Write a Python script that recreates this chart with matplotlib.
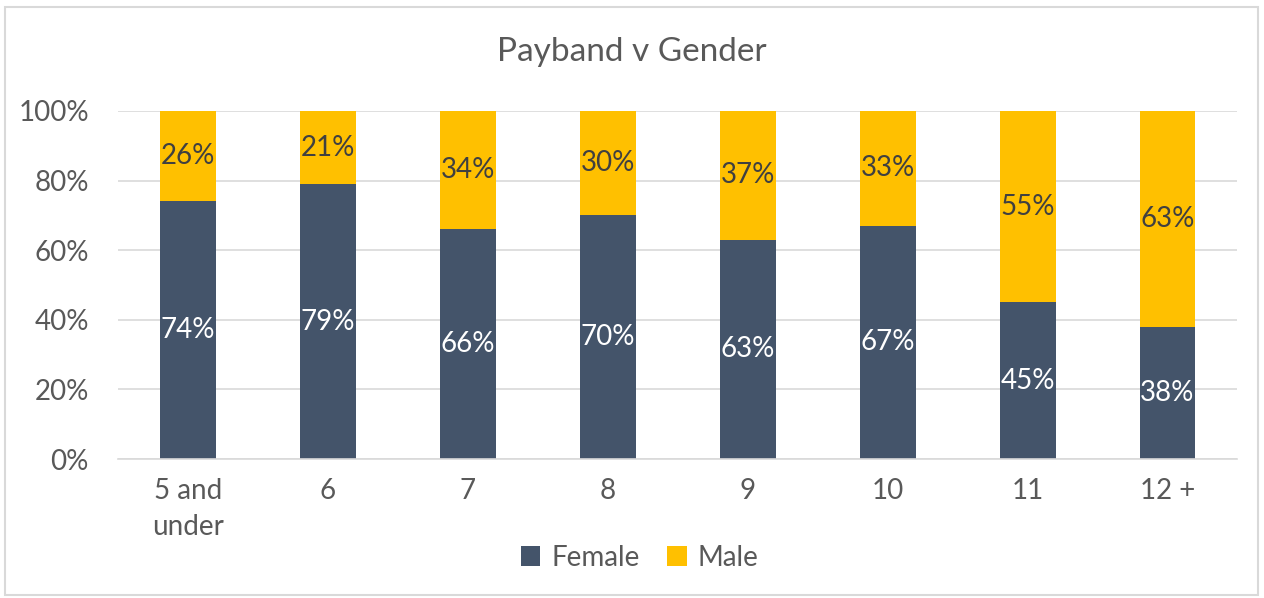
import matplotlib.pyplot as plt
from matplotlib.patches import Rectangle
import numpy as np

plt.rcParams['font.family'] = ['Lato', 'DejaVu Sans']

# 데이터
bands = ["5 and\nunder", "6", "7", "8", "9", "10", "11", "12 +"]
female = [74, 79, 66, 70, 63, 67, 45, 38]
male = [26, 21, 34, 30, 37, 33, 55, 63]

c_female = "#44546A"
c_male = "#FFC000"
grey_txt = "#595959"

fig = plt.figure(figsize=(12.64, 5.98), dpi=100)
ax = fig.add_axes([0.0934, 0.2324, 0.8856, 0.582])

x = np.arange(len(bands))
ax.bar(x, female, width=0.4, color=c_female, label="Female", zorder=2)
ax.bar(x, male, width=0.4, bottom=female, color=c_male, label="Male", zorder=2)

for i in range(len(bands)):
    ax.text(x[i], female[i] / 2, f"{female[i]}%", ha="center", va="center",
            color="white", fontsize=20)
    top = min(female[i] + male[i], 100)
    ax.text(x[i], (female[i] + top) / 2, f"{male[i]}%", ha="center", va="center",
            color="#404040", fontsize=20)

ax.set_xlim(-0.5, 7.5)
ax.set_ylim(0, 100)
ax.set_yticks(range(0, 101, 20))
ax.set_yticklabels([f"{v}%" for v in range(0, 101, 20)])
ax.set_xticks(x)
ax.set_xticklabels(bands, linespacing=1.45)
ax.tick_params(axis="both", length=0, labelsize=20, colors=grey_txt)
ax.tick_params(axis="x", pad=14)
ax.tick_params(axis="y", pad=21)
ax.grid(axis="y", color="#D9D9D9", linewidth=1.2, zorder=0)
for s in ["top", "right", "left"]:
    ax.spines[s].set_visible(False)
ax.spines["bottom"].set_color("#D9D9D9")
ax.spines["bottom"].set_linewidth(1.2)

fig.text(0.5, 0.913, "Payband v Gender", ha="center", va="center",
         fontsize=24, color=grey_txt)

fig.legend(loc="center", bbox_to_anchor=(0.506, 0.067), ncol=2, frameon=False,
           fontsize=20, labelcolor=grey_txt, handlelength=0.7, handleheight=0.7,
           handletextpad=0.4, columnspacing=1.0)

fig.patches.append(Rectangle((0.004, 0.005), 0.991, 0.983, transform=fig.transFigure,
                             fill=False, edgecolor="#D9D9D9", linewidth=1.5))

plt.savefig("out.png", dpi=100)
